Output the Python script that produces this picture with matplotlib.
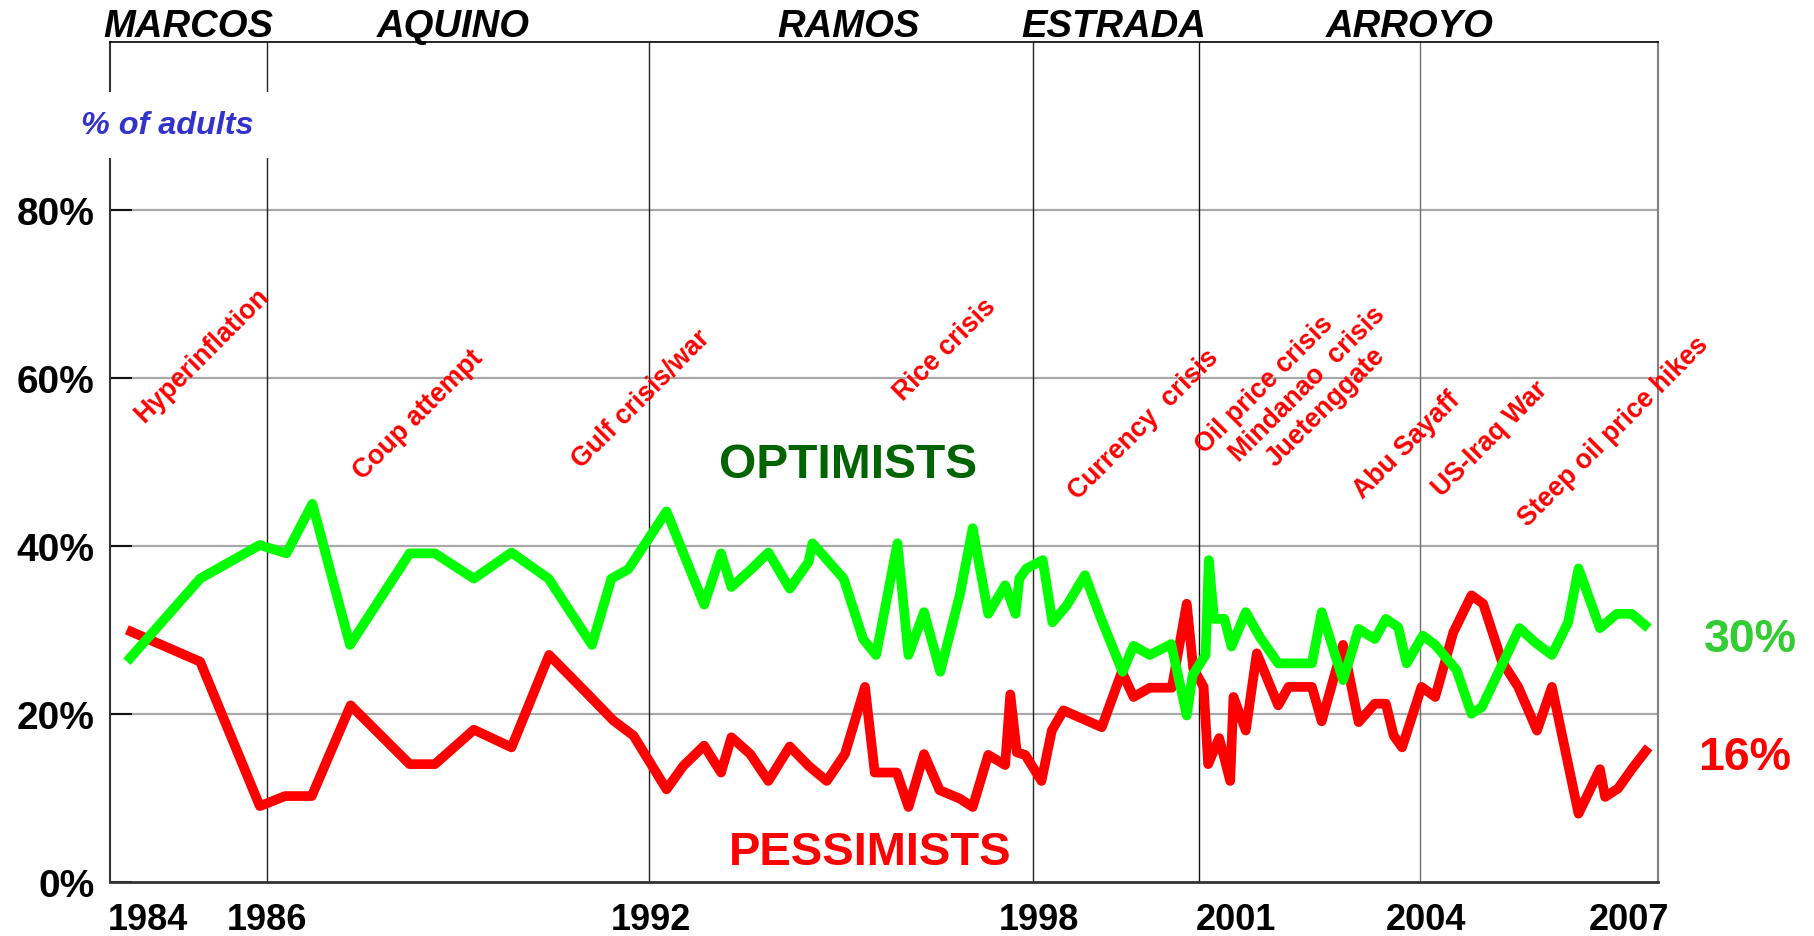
import matplotlib
matplotlib.use('Agg')
import matplotlib.pyplot as plt

plt.rcParams['font.family'] = ['Liberation Sans', 'DejaVu Sans']

# ---------------- data ----------------
opt_x = [1983.84, 1984.97, 1985.89, 1986.30, 1986.70, 1987.28, 1988.20, 1988.59, 1989.19, 1989.77,
         1990.34, 1991.01, 1991.31, 1991.57, 1992.16, 1992.74, 1993.00, 1993.16, 1993.45, 1993.73,
         1994.06, 1994.35, 1994.41, 1994.89, 1995.19, 1995.39, 1995.72, 1995.89, 1996.13, 1996.38,
         1996.68, 1996.88, 1997.12, 1997.38, 1997.54, 1997.60, 1997.71, 1997.96, 1998.11, 1998.33,
         1998.61, 1998.84, 1999.19, 1999.36, 1999.61, 1999.94, 2000.18, 2000.27, 2000.47, 2000.52,
         2000.60, 2000.76, 2000.87, 2001.09, 2001.31, 2001.59, 2002.11, 2002.26, 2002.59, 2002.83,
         2003.08, 2003.25, 2003.44, 2003.57, 2003.82, 2004.01, 2004.34, 2004.57, 2004.73, 2005.31,
         2005.55, 2005.81, 2006.06, 2006.22, 2006.55, 2006.81, 2007.04, 2007.30]
opt_y = [26.2, 36.1, 40.1, 39.1, 45.0, 28.2, 39.1, 39.1, 36.1, 39.2,
         36.1, 28.2, 36.1, 37.2, 44.1, 33.0, 39.1, 35.1, 37.1, 39.2,
         34.9, 38.1, 40.3, 36.1, 28.9, 27.0, 40.3, 27.0, 32.1, 25.0,
         34.1, 42.1, 31.9, 35.3, 31.9, 36.1, 37.3, 38.3, 30.9, 32.9,
         36.5, 31.7, 25.0, 28.1, 27.0, 28.3, 19.8, 24.6, 27.0, 38.3,
         31.3, 31.3, 28.0, 32.1, 29.1, 26.0, 26.0, 32.1, 24.0, 30.1,
         28.9, 31.3, 30.3, 26.0, 29.3, 28.2, 25.2, 20.0, 20.8, 30.2,
         28.5, 27.0, 30.9, 37.3, 30.2, 31.9, 31.9, 30.2]

pes_x = [1983.84, 1984.97, 1985.89, 1986.28, 1986.69, 1987.29, 1988.20, 1988.59, 1989.19, 1989.77,
         1990.35, 1990.95, 1991.34, 1991.65, 1992.16, 1992.42, 1992.74, 1993.00, 1993.16, 1993.45,
         1993.73, 1994.06, 1994.35, 1994.63, 1994.91, 1995.22, 1995.37, 1995.71, 1995.89, 1996.13,
         1996.37, 1996.68, 1996.88, 1997.12, 1997.38, 1997.46, 1997.56, 1997.69, 1997.94, 1998.10,
         1998.28, 1998.87, 1999.18, 1999.36, 1999.61, 1999.95, 2000.18, 2000.28, 2000.44, 2000.51,
         2000.68, 2000.85, 2000.90, 2001.09, 2001.26, 2001.59, 2001.75, 2002.11, 2002.26, 2002.59,
         2002.83, 2003.08, 2003.25, 2003.37, 2003.50, 2003.80, 2004.01, 2004.29, 2004.57, 2004.75,
         2005.04, 2005.29, 2005.58, 2005.81, 2006.22, 2006.55, 2006.63, 2006.83, 2007.04, 2007.30]
pes_y = [30.0, 26.2, 9.0, 10.2, 10.2, 21.0, 14.0, 14.0, 18.1, 16.0,
         27.0, 22.3, 19.2, 17.4, 11.0, 13.8, 16.2, 13.0, 17.2, 15.2,
         12.0, 16.1, 13.8, 12.0, 15.2, 23.2, 13.0, 13.0, 8.9, 15.2,
         10.9, 9.9, 8.9, 15.1, 13.9, 22.3, 15.4, 15.1, 12.0, 18.0,
         20.4, 18.4, 25.0, 22.0, 23.1, 23.1, 33.1, 25.4, 23.2, 14.0,
         17.1, 12.0, 22.0, 18.0, 27.2, 21.0, 23.2, 23.2, 19.1, 28.2,
         19.0, 21.2, 21.2, 17.4, 16.0, 23.2, 22.0, 29.7, 34.1, 33.1,
         26.2, 23.2, 18.0, 23.2, 8.1, 13.4, 10.1, 11.1, 13.4, 16.0]

x_tick_pos = [1984.16, 1986.0, 1991.92, 1997.90, 2000.94, 2003.87, 2007.0]
x_tick_labels = ['1984', '1986', '1992', '1998', '2001', '2004', '2007']
y_ticks = [0, 20, 40, 60, 80]
y_tick_labels = ['0%', '20%', '40%', '60%', '80%']

presidents = ['MARCOS', 'AQUINO', 'RAMOS', 'ESTRADA', 'ARROYO']
president_x = [1984.78, 1988.88, 1994.97, 1999.05, 2003.62]
term_lines = [1986.0, 1991.89, 1997.81, 2000.37, 2003.77]

events = ['Hyperinflation', 'Coup attempt', 'Gulf crisis/war', 'Rice crisis',
          'Currency  crisis', 'Oil price crisis', 'Mindanao  crisis', 'Juetenggate',
          'Abu Sayaff', 'US-Iraq War', 'Steep oil price hikes']
event_x = [1984.11, 1987.47, 1990.85, 1995.81, 1998.50, 2000.46, 2000.98, 2001.54,
           2002.90, 2004.11, 2005.43]
event_y = [54.7, 47.9, 49.2, 57.2, 45.5, 51.0, 50.0, 49.4, 45.6, 45.8, 42.3]

last_opt_label = '30%'
last_pes_label = '16%'

# ---------------- figure ----------------
fig = plt.figure(figsize=(18.14, 9.37), dpi=100)
ax = fig.add_axes([0.06064, 0.05795, 0.85353, 0.89616])
ax.set_xlim(1983.58, 2007.45)
ax.set_ylim(0, 100)

# grid
for yv in y_ticks[1:]:
    ax.axhline(yv, color='#a8a8a8', lw=1.6, zorder=1)
line_colors = ['#222222', '#222222', '#222222', '#111111', '#707070']
for xv, c in zip(term_lines, line_colors):
    ax.axvline(xv, color=c, lw=1.0, zorder=1)

# data
ax.plot(pes_x, pes_y, color='#ff0000', lw=7.0, solid_joinstyle='round',
        solid_capstyle='butt', zorder=3)
ax.plot(opt_x, opt_y, color='#00ff00', lw=7.0, solid_joinstyle='round',
        solid_capstyle='butt', zorder=4)

# spines
ax.spines['left'].set_color('#333333')
ax.spines['left'].set_linewidth(1.5)
ax.spines['bottom'].set_color('#333333')
ax.spines['bottom'].set_linewidth(2.0)
ax.spines['top'].set_color('#000000')
ax.spines['top'].set_linewidth(1.2)
ax.spines['right'].set_color('#808080')
ax.spines['right'].set_linewidth(1.5)

# ticks
ax.set_yticks(y_ticks, y_tick_labels)
ax.set_xticks(x_tick_pos, x_tick_labels)
ax.tick_params(axis='y', direction='in', length=16, width=1.5, color='#111111',
               pad=11, labelsize=28)
ax.tick_params(axis='x', length=0, pad=14.5, labelsize=26)
for lab in ax.get_xticklabels() + ax.get_yticklabels():
    lab.set_fontweight('bold')

# president names
for name, xv in zip(presidents, president_x):
    ax.text(xv, 100.7, name, ha='center', va='baseline', fontsize=27.5,
            fontweight='bold', fontstyle='italic', color='black', clip_on=False)

# % of adults label
ax.text(1984.46, 90.1, '% of adults', ha='center', va='center', fontsize=23.3,
        fontweight='bold', fontstyle='italic', color='#3333cc', zorder=10,
        bbox=dict(boxstyle='square,pad=0.55', facecolor='white', edgecolor='none'))

# events
for label, xv, yv in zip(events, event_x, event_y):
    ax.text(xv, yv, label, rotation=45, rotation_mode='anchor', ha='left',
            va='baseline', fontsize=19.2, fontweight='bold', color='#ff0000',
            clip_on=False, zorder=6)

# series labels
ax.text(1994.96, 48.2, 'OPTIMISTS', ha='center', va='baseline', fontsize=34.5,
        fontweight='bold', color='#006400', zorder=6)
ax.text(1995.30, 2.1, 'PESSIMISTS', ha='center', va='baseline', fontsize=33.9,
        fontweight='bold', color='#ff0000', zorder=6)

ax.text(2008.16, 27.5, last_opt_label, ha='left', va='baseline', fontsize=33.5,
        fontweight='bold', color='#33cc33', clip_on=False)
ax.text(2008.07, 13.4, last_pes_label, ha='left', va='baseline', fontsize=33.5,
        fontweight='bold', color='#ff0000', clip_on=False)

fig.savefig('out.png', dpi=100, facecolor='white')
